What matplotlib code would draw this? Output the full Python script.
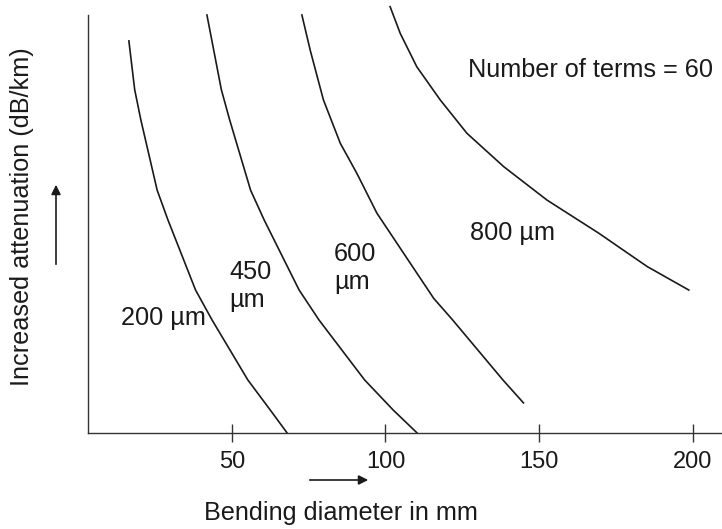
import matplotlib
matplotlib.use('Agg')
import matplotlib.pyplot as plt

plt.rcParams['font.family'] = ['Liberation Sans', 'DejaVu Sans']

# Courbes (diamètre de courbure en mm, atténuation en unités relatives)
x_200 = [16.5, 18.4, 20.4, 25.7, 29.2, 38.2, 43.6, 55.2, 62.5, 68.0]
y_200 = [93.8, 82.1, 74.9, 58.1, 51.0, 34.2, 27.0, 12.7, 5.5, 0.0]

x_450 = [41.9, 46.6, 49.3, 56.1, 60.5, 71.9, 78.4, 93.2, 102.5, 110.3]
y_450 = [100.0, 82.1, 74.9, 58.1, 51.0, 34.2, 27.0, 12.7, 5.5, 0.0]

x_600 = [72.8, 75.5, 79.8, 85.3, 90.7, 97.2, 105.9, 115.7, 121.9, 138.2, 144.9]
y_600 = [100.0, 91.6, 79.7, 69.3, 62.1, 52.6, 43.0, 32.2, 27.0, 12.7, 7.2]

x_800 = [101.5, 104.8, 110.2, 117.8, 126.5, 138.5, 152.6, 169.4, 185.2, 198.7]
y_800 = [102.0, 95.6, 87.6, 79.7, 71.7, 63.7, 55.7, 47.8, 39.8, 34.2]

xticks = [50, 100, 150, 200]

fig = plt.figure(figsize=(7.22, 5.29), dpi=100)
ax = fig.add_axes([88 / 722, 1 - 433 / 529, 634 / 722, 418 / 529])

for xs, ys in [(x_200, y_200), (x_450, y_450), (x_600, y_600), (x_800, y_800)]:
    ax.plot(xs, ys, color='#1a1a1a', lw=1.2, clip_on=False,
            solid_joinstyle='round')

ax.set_xlim(3.2, 209.5)
ax.set_ylim(0, 100)
ax.set_xticks(xticks)
ax.set_yticks([])
ax.tick_params(axis='x', direction='inout', length=13.5, width=1.0,
               color='#333333', labelsize=17, pad=6, labelcolor='#1a1a1a')
for s in ['top', 'right']:
    ax.spines[s].set_visible(False)
for s in ['left', 'bottom']:
    ax.spines[s].set_color('#333333')
    ax.spines[s].set_linewidth(1.0)

kw = dict(fontsize=18.2, color='#1a1a1a')
ax.text(127, 86.8, 'Number of terms = 60', va='center', ha='left', **kw)
ax.text(127.6, 47.8, '800 µm', va='center', ha='left', **kw)
ax.text(83.3, 39.5, '600\nµm', va='center', ha='left', linespacing=1.2, **kw)
ax.text(49.1, 35.2, '450\nµm', va='center', ha='left', linespacing=1.2, **kw)
ax.text(13.9, 27.5, '200 µm', va='center', ha='left', **kw)

# Libellés des axes et flèches
fig.text(0.472, 0.030, 'Bending diameter in mm', ha='center', va='center', **kw)
fig.text(0.030, 0.59, 'Increased attenuation (dB/km)', ha='center', va='center',
         rotation=90, **kw)
fig.add_artist(matplotlib.patches.FancyArrowPatch(
    (307 / 722, 1 - 480 / 529), (371 / 722, 1 - 480 / 529),
    transform=fig.transFigure, arrowstyle='-|>', mutation_scale=14,
    color='#1a1a1a', lw=1.2))
fig.add_artist(matplotlib.patches.FancyArrowPatch(
    (56 / 722, 1 - 267 / 529), (56 / 722, 1 - 182 / 529),
    transform=fig.transFigure, arrowstyle='-|>', mutation_scale=14,
    color='#1a1a1a', lw=1.2))

fig.savefig('out.png', dpi=100)
